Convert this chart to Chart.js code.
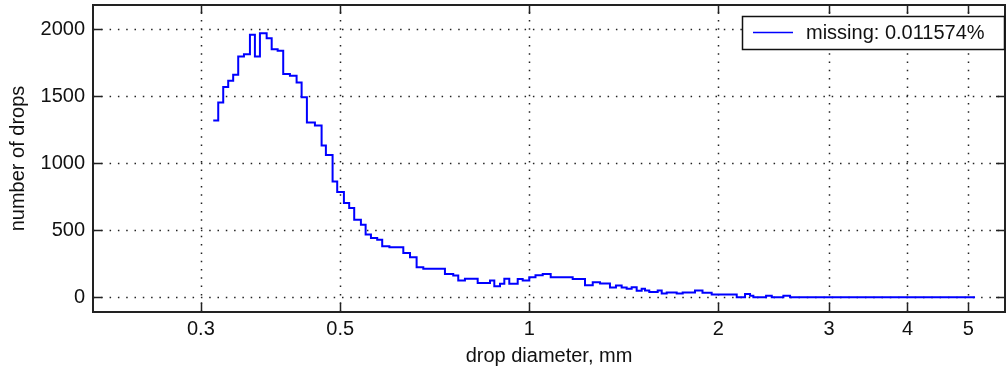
<!DOCTYPE html>
<html lang="en">
<head>
<meta charset="UTF-8">
<title>Drop size distribution</title>
<script src="https://cdn.jsdelivr.net/npm/chart.js"></script>
<style>
  html, body { margin: 0; padding: 0; background: #fff; }
  #wrap { width: 1007px; height: 368px; }
</style>
</head>
<body>
<div id="wrap"><canvas id="myChart"></canvas></div>
<script>
// bin edges in mm (log spaced) and counts per bin
const binEdges = [
  0.3139, 0.3197, 0.3256, 0.3316, 0.3377, 0.3440, 0.3513, 0.3591, 0.3657, 0.3725,
  0.3818, 0.3889, 0.3975, 0.4057, 0.4158, 0.4261, 0.4340, 0.4425, 0.4557, 0.4670,
  0.4744, 0.4862, 0.4945, 0.5068, 0.5167, 0.5263, 0.5394, 0.5488, 0.5596, 0.5726,
  0.5832, 0.5988, 0.6301, 0.6458, 0.6616, 0.6780, 0.7340, 0.7567, 0.7707, 0.7898,
  0.8276, 0.8659, 0.8796, 0.8982, 0.9125, 0.9293, 0.9584, 0.9761, 1.0000, 1.0230,
  1.0504, 1.0816, 1.1724, 1.2267, 1.2619, 1.2961, 1.3441, 1.3740, 1.4030, 1.4290,
  1.4554, 1.4824, 1.5098, 1.5282, 1.5525, 1.6012, 1.6249, 1.6549, 1.7166, 1.7548,
  1.8357, 1.8869, 1.9515, 2.1393, 2.2055, 2.2463, 2.2737, 2.3822, 2.4325, 2.5382,
  2.6013, 5.1250
];
const counts = [
  1320, 1454, 1569, 1616, 1661, 1797, 1815, 1959, 1797, 1972,
  1934, 1852, 1840, 1666, 1653, 1603, 1494, 1305, 1283, 1133,
  1062, 865, 786, 704, 667, 579, 542, 468, 443, 430,
  380, 373, 331, 298, 224, 212, 174, 162, 125, 139,
  107, 125, 82, 100, 139, 100, 137, 125, 149, 164,
  174, 149, 137, 89, 112, 102, 72, 87, 72, 63,
  75, 48, 63, 50, 40, 50, 28, 35, 28, 35,
  50, 33, 20, 0, 25, 12, 0, 12, 0, 12,
  0
];
const xTicks = [0.3, 0.5, 1, 2, 3, 4, 5];
const yTicks = [0, 500, 1000, 1500, 2000];
const legendLabel = 'missing: 0.011574%';

const FONT = 'Liberation Sans';
const FS = 20;

// stairs: each bin value starts at its left edge, last edge closes the final bin
const stairs = counts.map((c, i) => ({ x: binEdges[i], y: c }));
stairs.push({ x: binEdges[binEdges.length - 1], y: counts[counts.length - 1] });

// matlab style frame: dotted grid, inward ticks, box, legend
const matlabFrame = {
  id: 'matlabFrame',
  beforeDatasetsDraw(chart) {
    const { ctx, chartArea: a, scales: { x, y } } = chart;
    ctx.save();
    ctx.strokeStyle = '#222';
    ctx.lineWidth = 1.5;
    ctx.setLineDash([1.5, 6.8]);
    ctx.beginPath();
    xTicks.forEach(v => {
      const px = Math.round(x.getPixelForValue(v)) + 0.5;
      ctx.moveTo(px, a.bottom);
      ctx.lineTo(px, a.top);
    });
    yTicks.forEach(v => {
      const py = Math.round(y.getPixelForValue(v)) + 0.5;
      ctx.moveTo(a.left, py);
      ctx.lineTo(a.right, py);
    });
    ctx.stroke();
    ctx.restore();
  },
  afterDatasetsDraw(chart) {
    const { ctx, chartArea: a, scales: { x, y } } = chart;
    const tl = 9;
    ctx.save();
    ctx.strokeStyle = '#222';
    ctx.lineWidth = 1.5;
    ctx.beginPath();
    xTicks.forEach(v => {
      const px = Math.round(x.getPixelForValue(v)) + 0.5;
      ctx.moveTo(px, a.bottom); ctx.lineTo(px, a.bottom - tl);
      ctx.moveTo(px, a.top); ctx.lineTo(px, a.top + tl);
    });
    yTicks.forEach(v => {
      const py = Math.round(y.getPixelForValue(v)) + 0.5;
      ctx.moveTo(a.left, py); ctx.lineTo(a.left + tl, py);
      ctx.moveTo(a.right, py); ctx.lineTo(a.right - tl, py);
    });
    ctx.stroke();
    ctx.lineWidth = 2;
    ctx.strokeRect(a.left, a.top, a.right - a.left, a.bottom - a.top);

    // legend box
    const bw = 262, bh = 33;
    const bx = a.right - 1 - bw, by = a.top + 11;
    ctx.fillStyle = '#fff';
    ctx.fillRect(bx, by, bw, bh);
    ctx.lineWidth = 1.5;
    ctx.strokeStyle = '#111';
    ctx.strokeRect(bx + 0.5, by + 0.5, bw, bh);
    ctx.strokeStyle = '#0000ff';
    ctx.lineWidth = 1.5;
    ctx.beginPath();
    ctx.moveTo(bx + 11, by + 16.5);
    ctx.lineTo(bx + 51, by + 16.5);
    ctx.stroke();
    ctx.fillStyle = '#111';
    ctx.font = FS + 'px "' + FONT + '"';
    ctx.textBaseline = 'middle';
    ctx.textAlign = 'left';
    ctx.fillText(legendLabel, bx + 64, by + 17);
    ctx.restore();
  }
};

new Chart(document.getElementById('myChart'), {
  type: 'line',
  data: {
    datasets: [{
      label: legendLabel,
      data: stairs,
      stepped: true,
      borderColor: '#0000ff',
      borderWidth: 2,
      pointRadius: 0,
      fill: false
    }]
  },
  options: {
    responsive: true,
    maintainAspectRatio: false,
    animation: false,
    layout: { padding: { top: 5, right: 2, left: 0, bottom: 0 } },
    plugins: {
      legend: { display: false },
      tooltip: { enabled: false }
    },
    scales: {
      x: {
        type: 'logarithmic',
        min: 0.202,
        max: 5.72,
        afterBuildTicks: s => { s.ticks = xTicks.map(v => ({ value: v })); },
        afterFit: s => { s.height = 56; s.paddingLeft = 0; s.paddingRight = 0; },
        grid: { display: false, drawTicks: false },
        border: { display: false },
        ticks: {
          color: '#111',
          padding: 5,
          maxRotation: 0,
          autoSkip: false,
          font: { family: FONT, size: FS },
          callback: v => String(v)
        },
        title: {
          display: true,
          text: 'drop diameter, mm',
          color: '#111',
          padding: { top: 0, bottom: 0 },
          font: { family: FONT, size: FS }
        }
      },
      y: {
        min: -110,
        max: 2182,
        afterBuildTicks: s => { s.ticks = yTicks.map(v => ({ value: v })); },
        afterFit: s => { s.width = 93; s.paddingTop = 0; s.paddingBottom = 0; },
        grid: { display: false, drawTicks: false },
        border: { display: false },
        ticks: {
          color: '#111',
          padding: 8,
          font: { family: FONT, size: FS },
          callback: v => String(v)
        },
        title: {
          display: true,
          text: 'number of drops',
          color: '#111',
          padding: { top: 6, bottom: 0 },
          font: { family: FONT, size: FS }
        }
      }
    }
  },
  plugins: [matlabFrame]
});
</script>
</body>
</html>
